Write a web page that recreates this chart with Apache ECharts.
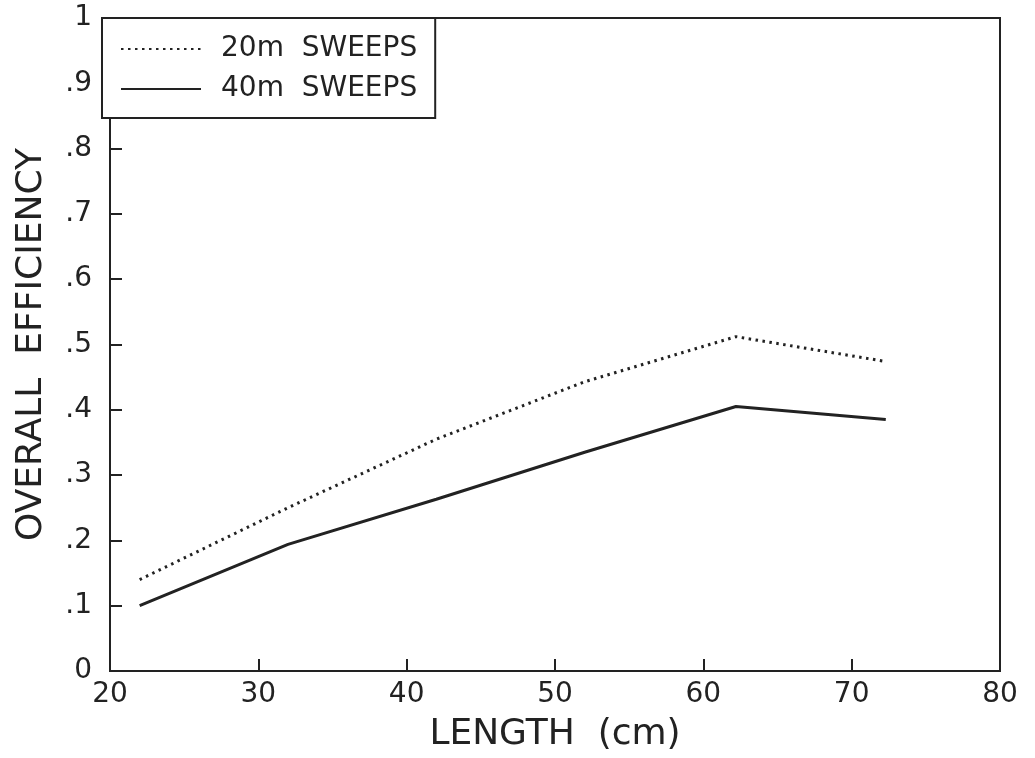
<!DOCTYPE html>
<html><head><meta charset="utf-8">
<script src="https://cdn.jsdelivr.net/npm/echarts@6/dist/echarts.min.js"></script>
<style>html,body{margin:0;padding:0;background:#fff}#c{width:1035px;height:758px}</style>
</head><body><div id="c"></div>
<script>
var seriesNames = ['20m  SWEEPS', '40m  SWEEPS'];
var lengths = [22, 32, 42, 52, 62.2, 72.3];
var sweeps20 = [0.14, 0.25, 0.355, 0.443, 0.512, 0.474];
var sweeps40 = [0.10, 0.194, 0.263, 0.335, 0.405, 0.385];
var xTitle = 'LENGTH  (cm)';
var yTitle = 'OVERALL  EFFICIENCY';

function pairs(xs, ys){ return xs.map(function(x,i){ return [x, ys[i]]; }); }
var font = 'DejaVu Sans, Verdana, sans-serif';
var ink = '#222';
var chart = echarts.init(document.getElementById('c'), null, {renderer:'canvas'});
chart.setOption({
  animation:false,
  backgroundColor:'#fff',
  grid:{left:110, right:35, top:18, bottom:87, show:true, borderColor:ink, borderWidth:2},
  legend:{
    left:102, top:18, orient:'vertical', padding:[17,18,15,18], itemGap:12,
    borderColor:ink, borderWidth:2, backgroundColor:'#fff',
    itemWidth:80, itemHeight:14,
    itemStyle:{opacity:0},
    textStyle:{fontFamily:font, fontSize:28, color:ink, padding:[0,0,0,15]},
    data:seriesNames
  },
  xAxis:{
    type:'value', min:20, max:80, interval:10,
    name:xTitle, nameLocation:'middle', nameGap:46,
    nameTextStyle:{fontFamily:font, fontSize:36, color:ink},
    axisLine:{lineStyle:{color:ink, width:2}},
    axisTick:{inside:true, length:12, lineStyle:{color:ink, width:2}},
    axisLabel:{fontFamily:font, fontSize:28, color:ink, margin:10},
    splitLine:{show:false}
  },
  yAxis:{
    type:'value', min:0, max:1, interval:0.1,
    name:yTitle, nameLocation:'middle', nameGap:60,
    nameTextStyle:{fontFamily:font, fontSize:36, color:ink},
    axisLine:{lineStyle:{color:ink, width:2}},
    axisTick:{inside:true, length:12, lineStyle:{color:ink, width:2}},
    axisLabel:{fontFamily:font, fontSize:28, color:ink, margin:18,
      formatter:function(v){ if(v===0) return '0'; if(v>=1) return '1'; return v.toFixed(1).replace(/^0/,''); }},
    splitLine:{show:false}
  },
  series:[
    {name:seriesNames[0], type:'line', data:pairs(lengths, sweeps20), showSymbol:false, symbol:'none',
     lineStyle:{color:ink, width:3, type:[2.5,4.5]}, itemStyle:{color:ink}},
    {name:seriesNames[1], type:'line', data:pairs(lengths, sweeps40), showSymbol:false, symbol:'none',
     lineStyle:{color:ink, width:3, type:'solid'}, itemStyle:{color:ink}}
  ]
});
</script></body></html>
